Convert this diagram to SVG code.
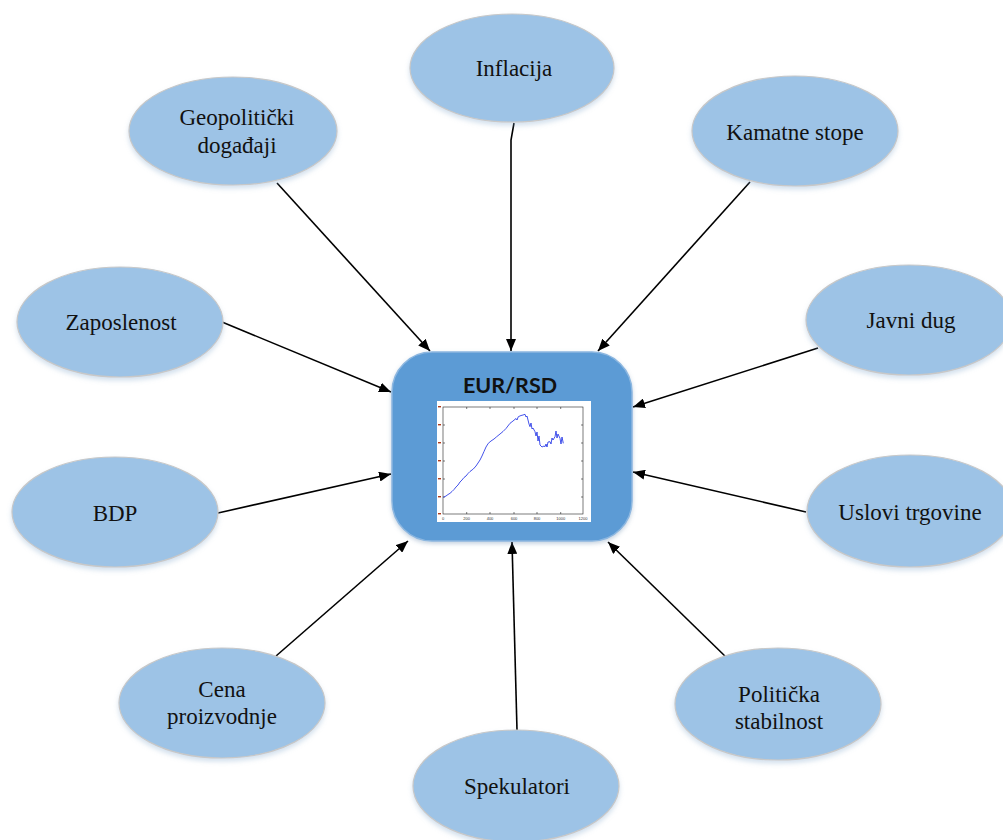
<svg xmlns="http://www.w3.org/2000/svg" width="1003" height="840" viewBox="0 0 1003 840">
  <style>
    .factor ellipse { fill: #9DC3E6; stroke: #c8c8c8; stroke-width: 1.2; filter: url(#soft); }
    .factor text { font-family: "Liberation Serif", "Times New Roman", serif; font-size: 23px; fill: #111; text-anchor: middle; }
    .edge { fill: none; stroke: #000; stroke-width: 1.6; marker-end: url(#arrow); }
    .tick { font-family: "Liberation Sans", Arial, sans-serif; font-size: 4px; fill: #333; text-anchor: middle; }
  </style>
  <defs>
    <filter id="soft" x="-10%" y="-10%" width="120%" height="130%">
      <feDropShadow dx="0" dy="3" stdDeviation="2.5" flood-color="#7fa6cc" flood-opacity="0.35"/>
    </filter>
    <filter id="boxshadow" x="-10%" y="-10%" width="120%" height="125%">
      <feDropShadow dx="0" dy="2" stdDeviation="2" flood-color="#5a7fa6" flood-opacity="0.35"/>
    </filter>
    <marker id="arrow" viewBox="0 0 12 10" refX="12" refY="5" markerWidth="12" markerHeight="10" markerUnits="userSpaceOnUse" orient="auto">
      <path d="M0,0 L12,5 L0,10 z" fill="#000"/>
    </marker>
  </defs>

  <!-- connectors: every factor points at the exchange-rate box -->
  <g id="connectors">
    <path class="edge" d="M514,123 L511,140 L511,351"/>
    <path class="edge" d="M277,183 L430,351"/>
    <path class="edge" d="M750,182 L598,351"/>
    <path class="edge" d="M222,322 L391,392"/>
    <path class="edge" d="M818,348 L633,407"/>
    <path class="edge" d="M218,513 L391,474"/>
    <path class="edge" d="M806,512 L633,472"/>
    <path class="edge" d="M276,656 L408,541"/>
    <path class="edge" d="M517,730 L512,542"/>
    <path class="edge" d="M728,659 L608,542"/>
  </g>

  <!-- central node: EUR/RSD with its price chart -->
  <g id="eur-rsd">
    <rect x="392" y="352" width="240" height="189" rx="40" ry="40" fill="#5B9BD5" stroke="#8db7e0" stroke-width="1.5" filter="url(#boxshadow)"/>
    <text x="510" y="393" font-family="Lato, 'Open Sans', sans-serif" font-weight="bold" font-size="21.5" fill="#111" text-anchor="middle">EUR/RSD</text>
    <rect x="437" y="401" width="154" height="121" fill="#fff"/>
    <g stroke="#222" stroke-width="0.6" fill="none">
      <rect x="443" y="407" width="140" height="107"/>
      <path d="M443,425 h2 M443,443 h2 M443,461 h2 M443,479 h2 M443,497 h2 M583,425 h-2 M583,443 h-2 M583,461 h-2 M583,479 h-2 M583,497 h-2"/>
      <path d="M466.7,514 v-2 M490,514 v-2 M514,514 v-2 M537,514 v-2 M560.7,514 v-2 M466.7,407 v2 M490,407 v2 M514,407 v2 M537,407 v2 M560.7,407 v2"/>
    </g>
    <g fill="#b03a1a">
      <rect x="438" y="406" width="3" height="1.4"/>
      <rect x="438" y="424" width="3" height="1.4"/>
      <rect x="438" y="442" width="3" height="1.4"/>
      <rect x="438" y="460" width="3" height="1.4"/>
      <rect x="438" y="478" width="3" height="1.4"/>
      <rect x="438" y="496" width="3" height="1.4"/>
      <rect x="438" y="513" width="3" height="1.4"/>
    </g>
    <text class="tick" x="443" y="520">0</text>
    <text class="tick" x="466.7" y="520">200</text>
    <text class="tick" x="490" y="520">400</text>
    <text class="tick" x="514" y="520">600</text>
    <text class="tick" x="537" y="520">800</text>
    <text class="tick" x="560.7" y="520">1000</text>
    <text class="tick" x="583" y="520">1200</text>
    <path fill="none" stroke="#2f3fe8" stroke-width="0.9" stroke-linejoin="round"
      d="M443.3,497.3 L446,496 L448,494.5 L450,493.3 L452,491.5 L454,489.5 L456,487 L458,485 L460,482 L462,480 L464,477.5 L466,476 L468,473.5 L470,471.5 L473.3,469 L476,466 L478,463 L480,460 L482,456 L484,451.5 L486,447 L488.3,443.3 L491,441 L494,439 L496.7,436.7 L500,434 L503,431.5 L506,428.5 L510,423.3 L513,421 L516,418.5 L517,420 L518.3,416.7 L521,415.5 L523,415 L525,414.3 L526,417 L527,416 L528,420 L529,424 L530,426.7 L531,423 L532,429 L533,428 L535,431.7 L536,436 L537,432 L538,441 L539,436 L540,445 L542,447 L544,446 L545,446.7 L546,444 L547,447 L548,442 L550,441.7 L551,444 L552,438 L553,440 L555,436.7 L556,431 L557,438 L558,434 L560,438.3 L561,444 L562,437 L563.3,443.3"/>
  </g>

  <!-- factor nodes -->
  <g id="inflacija" class="factor">
    <ellipse cx="512" cy="68" rx="102" ry="54"/>
    <text x="514" y="76">Inflacija</text>
  </g>
  <g id="geopoliticki-dogadjaji" class="factor">
    <ellipse cx="233" cy="131" rx="104" ry="54"/>
    <text x="237" y="125">Geopolitički</text>
    <text x="237" y="153">događaji</text>
  </g>
  <g id="kamatne-stope" class="factor">
    <ellipse cx="795" cy="131" rx="103" ry="55"/>
    <text x="795" y="140">Kamatne stope</text>
  </g>
  <g id="zaposlenost" class="factor">
    <ellipse cx="120" cy="322" rx="103" ry="55"/>
    <text x="121" y="330">Zaposlenost</text>
  </g>
  <g id="javni-dug" class="factor">
    <ellipse cx="909" cy="320" rx="103" ry="55"/>
    <text x="911" y="328">Javni dug</text>
  </g>
  <g id="bdp" class="factor">
    <ellipse cx="115" cy="512" rx="103" ry="55"/>
    <text x="115" y="521">BDP</text>
  </g>
  <g id="uslovi-trgovine" class="factor">
    <ellipse cx="910" cy="511" rx="103" ry="56"/>
    <text x="910" y="520">Uslovi trgovine</text>
  </g>
  <g id="cena-proizvodnje" class="factor">
    <ellipse cx="222" cy="703" rx="103" ry="55"/>
    <text x="222" y="697">Cena</text>
    <text x="222" y="724">proizvodnje</text>
  </g>
  <g id="politicka-stabilnost" class="factor">
    <ellipse cx="778" cy="704" rx="103" ry="56"/>
    <text x="779" y="702">Politička</text>
    <text x="779" y="729">stabilnost</text>
  </g>
  <g id="spekulatori" class="factor">
    <ellipse cx="516" cy="786" rx="103" ry="56"/>
    <text x="517" y="794">Spekulatori</text>
  </g>
</svg>
